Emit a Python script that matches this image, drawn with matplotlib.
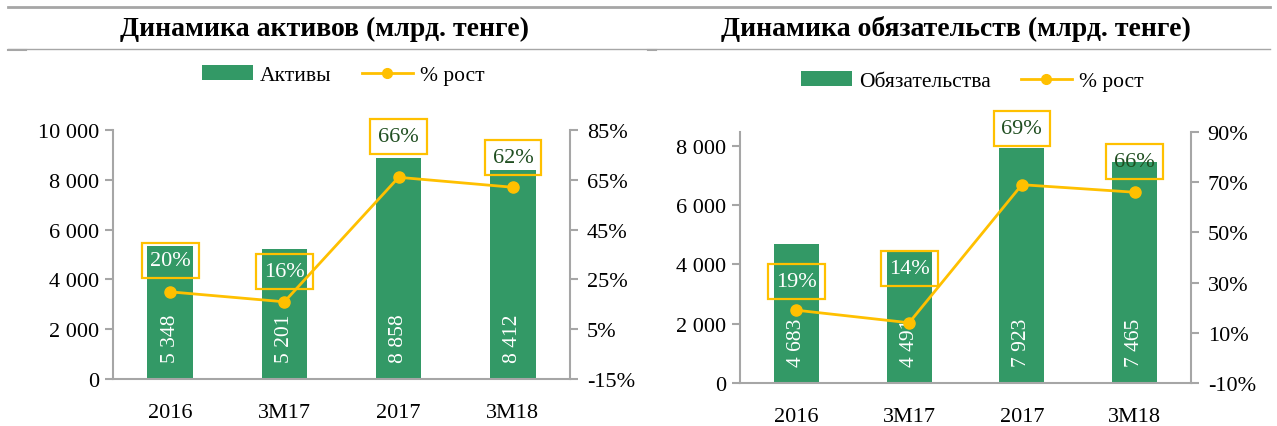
import matplotlib
matplotlib.use("Agg")
import matplotlib.pyplot as plt
from matplotlib.lines import Line2D
from matplotlib.patches import Patch
from matplotlib.ticker import FuncFormatter

# ---------------- data ----------------
categories = ["2016", "3M17", "2017", "3M18"]
assets = [5348, 5201, 8858, 8412]
assets_growth = [20, 16, 66, 62]
liabilities = [4683, 4491, 7923, 7465]
liabilities_growth = [19, 14, 69, 66]

title_left = "Динамика активов (млрд. тенге)"
title_right = "Динамика обязательств (млрд. тенге)"
legend_bar_left = "Активы"
legend_bar_right = "Обязательства"
legend_line = "% рост"

# ---------------- style ----------------
GREEN = "#339966"
YELLOW = "#FFC000"
GRAY = "#A6A6A6"
DARKGREEN = "#1f4e20"
FONT = ["Liberation Serif", "DejaVu Serif"]
plt.rcParams["font.family"] = FONT

W, H = 1277, 427
fig = plt.figure(figsize=(W / 100, H / 100), dpi=100)


def px(x0, y0, x1, y1):
    return [x0 / W, 1 - y1 / H, (x1 - x0) / W, (y1 - y0) / H]


def thousands(v, _):
    s = f"{int(round(v)):,}".replace(",", " ")
    return s


def draw_panel(rect, values, growth, ylim, yticks, y2lim, y2ticks,
               label_offsets, label_colors):
    ax = fig.add_axes(rect)
    x = list(range(len(categories)))
    ax.bar(x, values, width=0.4, color=GREEN, zorder=2)
    ax.set_xlim(-0.5, len(categories) - 0.5)
    ax.set_ylim(*ylim)
    ax.set_yticks(yticks)
    ax.yaxis.set_major_formatter(FuncFormatter(thousands))
    ax.set_xticks(x)
    ax.set_xticklabels(categories)
    for side in ["top", "right"]:
        ax.spines[side].set_visible(False)
    ax.spines["left"].set_color(GRAY)
    ax.spines["bottom"].set_color(GRAY)
    ax.spines["left"].set_linewidth(1.5)
    ax.spines["bottom"].set_linewidth(1.5)
    ax.tick_params(axis="y", colors=GRAY, labelcolor="#000000",
                   labelsize=16, length=6, width=1.5, direction="out", pad=4)
    ax.tick_params(axis="x", length=0, labelsize=16, pad=17)
    for xi, v in zip(x, values):
        ax.annotate(thousands(v, None), (xi, 0), xytext=(0, 12),
                    textcoords="offset points", rotation=90, ha="center",
                    va="bottom", color="white", fontsize=15.5, zorder=4)

    ax2 = ax.twinx()
    ax2.set_ylim(*y2lim)
    ax2.set_yticks(y2ticks)
    ax2.set_yticklabels([f"{t}%" for t in y2ticks])
    for side in ["top", "left", "bottom"]:
        ax2.spines[side].set_visible(False)
    ax2.spines["right"].set_color(GRAY)
    ax2.spines["right"].set_linewidth(1.5)
    ax2.tick_params(axis="y", colors=GRAY, labelcolor="#000000",
                    labelsize=16, length=6, width=1.5, direction="out", pad=6)
    ax2.plot(x, growth, color=YELLOW, lw=2, marker="o", markersize=8, zorder=3)
    for xi, g, off, c in zip(x, growth, label_offsets, label_colors):
        ax2.annotate(f"{g}%", (xi, g), xytext=(0, off * 0.72),
                     textcoords="offset points", ha="center", va="center",
                     color=c, fontsize=16,
                     bbox=dict(boxstyle="square,pad=0.36", fc="none",
                               ec=YELLOW, lw=1.6), zorder=5)
    return ax, ax2


draw_panel(px(113, 131, 570, 380), assets, assets_growth,
           (0, 10000), list(range(0, 10001, 2000)),
           (-15, 85), list(range(-15, 86, 20)),
           [31, 30, 41, 30], ["white", "white", DARKGREEN, DARKGREEN])

draw_panel(px(740, 133, 1191, 384), liabilities, liabilities_growth,
           (0, 8470), list(range(0, 8001, 2000)),
           (-10, 90), list(range(-10, 91, 20)),
           [29, 54, 56, 31], ["white", "white", DARKGREEN, DARKGREEN])

# titles and header rules
fig.text(325 / W, 1 - 29 / H, title_left, ha="center", va="center",
         fontsize=20, fontweight="bold")
fig.text(956 / W, 1 - 29 / H, title_right, ha="center", va="center",
         fontsize=20, fontweight="bold")
fig.add_artist(Line2D([8 / W, 1270 / W], [1 - 7.5 / H] * 2, color=GRAY, lw=2))
fig.add_artist(Line2D([8 / W, 1270 / W], [1 - 50 / H] * 2, color=GRAY, lw=1))
fig.add_artist(Line2D([8 / W, 26 / W], [1 - 51 / H] * 2, color=GRAY, lw=1.5))
fig.add_artist(Line2D([648 / W, 656 / W], [1 - 51 / H] * 2, color=GRAY, lw=1.5))

# legends
def legend(cx, cy, bar_label):
    handles = [Patch(facecolor=GREEN, edgecolor="none"),
               Line2D([], [], color=YELLOW, lw=2, marker="o", markersize=7)]
    fig.legend(handles, [bar_label, legend_line], loc="center",
               bbox_to_anchor=(cx / W, 1 - cy / H), ncol=2, frameon=False,
               fontsize=15.5, handlelength=2.4, handleheight=0.7,
               handletextpad=0.3, columnspacing=1.4)

legend(343, 76, legend_bar_left)
legend(972, 82, legend_bar_right)

fig.savefig("out.png", dpi=100)
